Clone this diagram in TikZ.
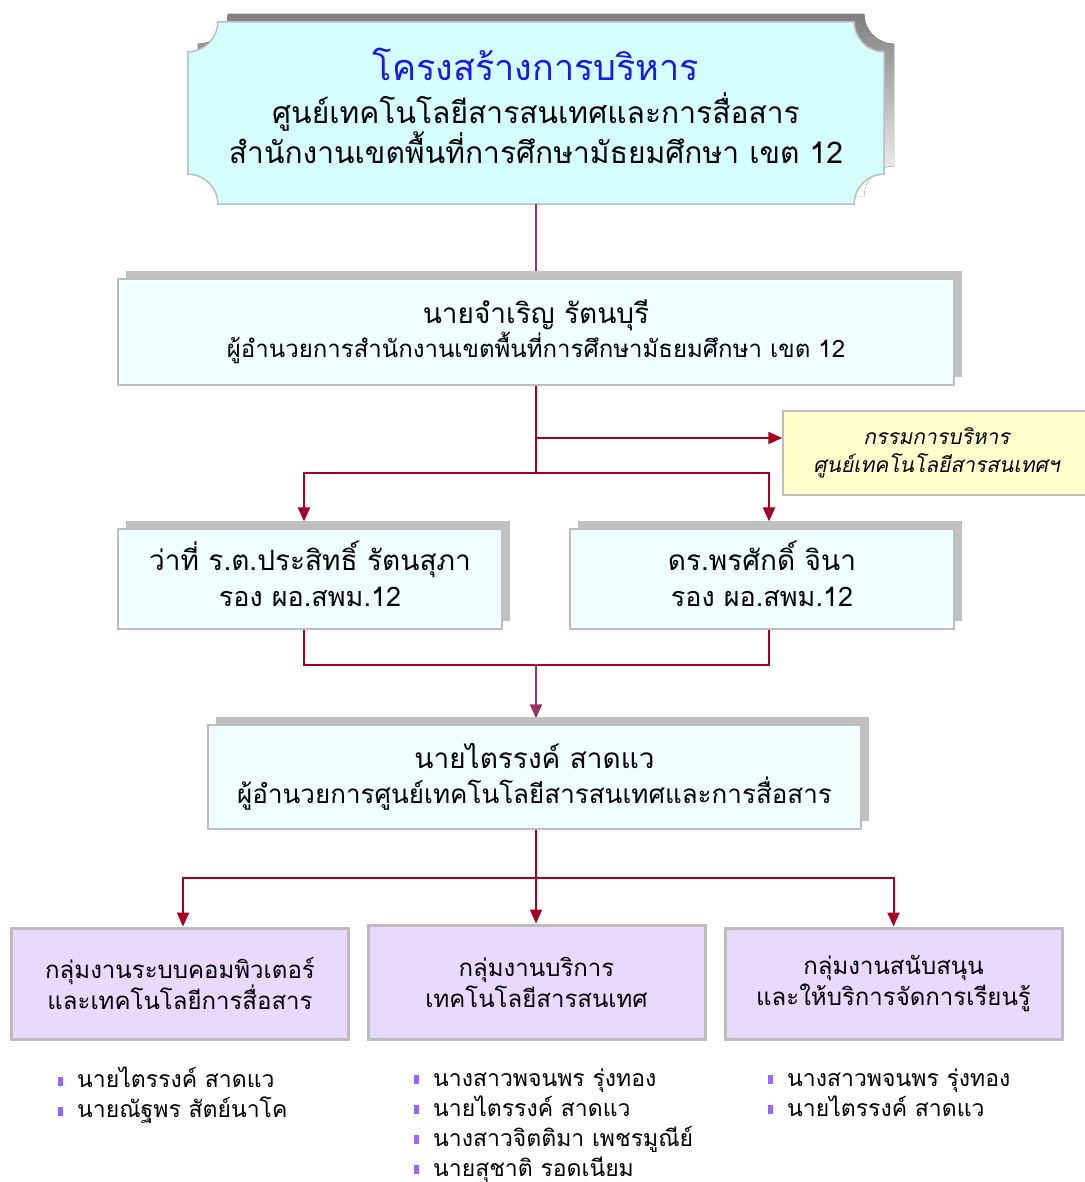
\documentclass[tikz,border=0pt]{standalone}
\usepackage{fontspec}
\newfontfamily\thai[Script=Thai]{Loma}
\newfontfamily\thaislant[Script=Thai,FakeSlant=0.2]{Loma}
\usetikzlibrary{arrows.meta,backgrounds,shadows}

\definecolor{linkred}{HTML}{A50021}
\definecolor{linkplum}{HTML}{993366}
\definecolor{headfill}{HTML}{D5FFFF}
\definecolor{boxfill}{HTML}{F0FFFF}
\definecolor{boxline}{HTML}{BDBDBD}
\definecolor{shade}{HTML}{C0C0C0}
\definecolor{notefill}{HTML}{FFFFCC}
\definecolor{groupfill}{HTML}{E8DAFF}
\definecolor{bulletc}{HTML}{9966FF}
\definecolor{titleblue}{HTML}{1A1AE6}

\tikzset{
  person/.style={draw=boxline, line width=1.2pt, fill=boxfill, align=center, inner sep=0pt,
    general shadow={fill=shade, shadow xshift=8pt, shadow yshift=8pt}},
  note/.style={draw=boxline, line width=1.5pt, fill=notefill, align=center, inner sep=0pt,
    font=\thaislant\fontsize{21}{28}\selectfont},
  group/.style={draw=boxline, line width=3pt, fill=groupfill, align=center, inner sep=0pt,
    minimum width=337pt, font=\thai\fontsize{24}{31}\selectfont},
  members/.style={anchor=north west, align=left, inner sep=0pt,
    font=\thai\fontsize{23}{30}\selectfont},
  link/.style={draw=linkred, line width=2pt},
  arrow/.style={link, -{Triangle[length=14pt,width=12pt]}},
}
\newcommand{\bul}{{\color{bulletc}\rule[2pt]{5pt}{9pt}}\hspace{14pt}}
\newcommand{\plaque}[1]{%
  ([shift={#1},shift={(0,30)}]head.north west) arc[start angle=90,end angle=0,radius=30]
  -- ([shift={#1},shift={(-30,0)}]head.north east) arc[start angle=180,end angle=90,radius=30]
  -- ([shift={#1},shift={(0,-30)}]head.south east) arc[start angle=-90,end angle=-180,radius=30]
  -- ([shift={#1},shift={(30,0)}]head.south west) arc[start angle=0,end angle=-90,radius=30]
  -- cycle}

\begin{document}
\begin{tikzpicture}[x=1pt,y=-1pt]
  \useasboundingbox (0,0) rectangle (1084,1182);

  % heading
  \node[minimum width=696pt, minimum height=182pt, align=center, inner sep=0pt,
        text depth=15pt, font=\thai\fontsize{30}{40}\selectfont] (head) at (536,113)
    {{\fontsize{36}{40}\selectfont\color{titleblue}โครงสร้างการบริหาร}\\[3pt]
     ศูนย์เทคโนโลยีสารสนเทศและการสื่อสาร\\
     สำนักงานเขตพื้นที่การศึกษามัธยมศึกษา เขต 12};

  \node[person, minimum width=836pt, minimum height=106pt,
        font=\thai\fontsize{24}{34}\selectfont] (chief) at (536,332)
    {{\fontsize{28}{34}\selectfont นายจำเริญ รัตนบุรี}\\
     ผู้อำนวยการสำนักงานเขตพื้นที่การศึกษามัธยมศึกษา เขต 12};

  \node[note, minimum width=307pt, minimum height=84pt] (board) at (936.5,453)
    {กรรมการบริหาร\\ ศูนย์เทคโนโลยีสารสนเทศฯ};

  \node[person, minimum width=384pt, minimum height=100pt, text depth=11pt,
        font=\thai\fontsize{27}{36}\selectfont] (depA) at (310,579)
    {{\fontsize{28}{36}\selectfont ว่าที่ ร.ต.ประสิทธิ์ รัตนสุภา}\\ รอง ผอ.สพม.12};
  \node[person, minimum width=384pt, minimum height=100pt, text depth=11pt,
        font=\thai\fontsize{27}{36}\selectfont] (depB) at (762,579)
    {{\fontsize{28}{36}\selectfont ดร.พรศักดิ์ จินา}\\ รอง ผอ.สพม.12};

  \node[person, minimum width=653pt, minimum height=104pt,
        font=\thai\fontsize{26}{35}\selectfont] (manager) at (534.5,777)
    {{\fontsize{28}{35}\selectfont นายไตรรงค์ สาดแว}\\
     ผู้อำนวยการศูนย์เทคโนโลยีสารสนเทศและการสื่อสาร};

  \node[group, minimum height=111pt] (grpA) at (180,983.5)
    {กลุ่มงานระบบคอมพิวเตอร์\\ และเทคโนโลยีการสื่อสาร};
  \node[group, minimum height=114pt] (grpB) at (536.5,982)
    {กลุ่มงานบริการ\\ เทคโนโลยีสารสนเทศ};
  \node[group, minimum height=111pt] (grpC) at (893.5,983.5)
    {กลุ่มงานสนับสนุน\\ และให้บริการจัดการเรียนรู้};

  \node[members] (listA) at (58,1067)
    {\bul นายไตรรงค์ สาดแว\\ \bul นายณัฐพร สัตย์นาโค};
  \node[members] (listB) at (414,1068)
    {\bul นางสาวพจนพร รุ่งทอง\\ \bul นายไตรรงค์ สาดแว\\
     \bul นางสาวจิตติมา เพชรมูณีย์\\ \bul นายสุชาติ รอดเนียม};
  \node[members] (listC) at (768,1068)
    {\bul นางสาวพจนพร รุ่งทอง\\ \bul นายไตรรงค์ สาดแว};

  \coordinate (split0) at (536,438);
  \coordinate (split1) at (536,473);
  \coordinate (join) at (536,664);
  \coordinate (split2) at (536,878);

  \begin{scope}[on background layer]
    \fill[shade] \plaque{(10,-8)};
    \filldraw[fill=headfill, draw=boxline, line width=1.5pt] \plaque{(0,0)};

    \draw[link, draw=linkplum, line width=1.5pt] (head) -- (chief);
    \draw[link] (chief) -- (split1);
    \draw[arrow] (split0) -- (split0 -| board.west);
    \draw[arrow, shorten >=7pt] (split1) -| ([xshift=-6pt]depA.north);
    \draw[arrow, shorten >=7pt] (split1) -| ([xshift=7pt]depB.north);
    \draw[link] ([xshift=-6pt]depA.south) -- ++(0,35) -| ([xshift=7pt]depB.south);
    \draw[arrow, draw=linkplum, shorten >=6pt] (join) -- (join |- manager.north);
    \draw[link] (split2 |- manager.south) -- (split2);
    \draw[arrow] (split2) -| ([xshift=3pt]grpA.north);
    \draw[arrow] (split2) -- (split2 |- grpB.north);
    \draw[arrow] (split2) -| (grpC.north);
  \end{scope}
\end{tikzpicture}
\end{document}
